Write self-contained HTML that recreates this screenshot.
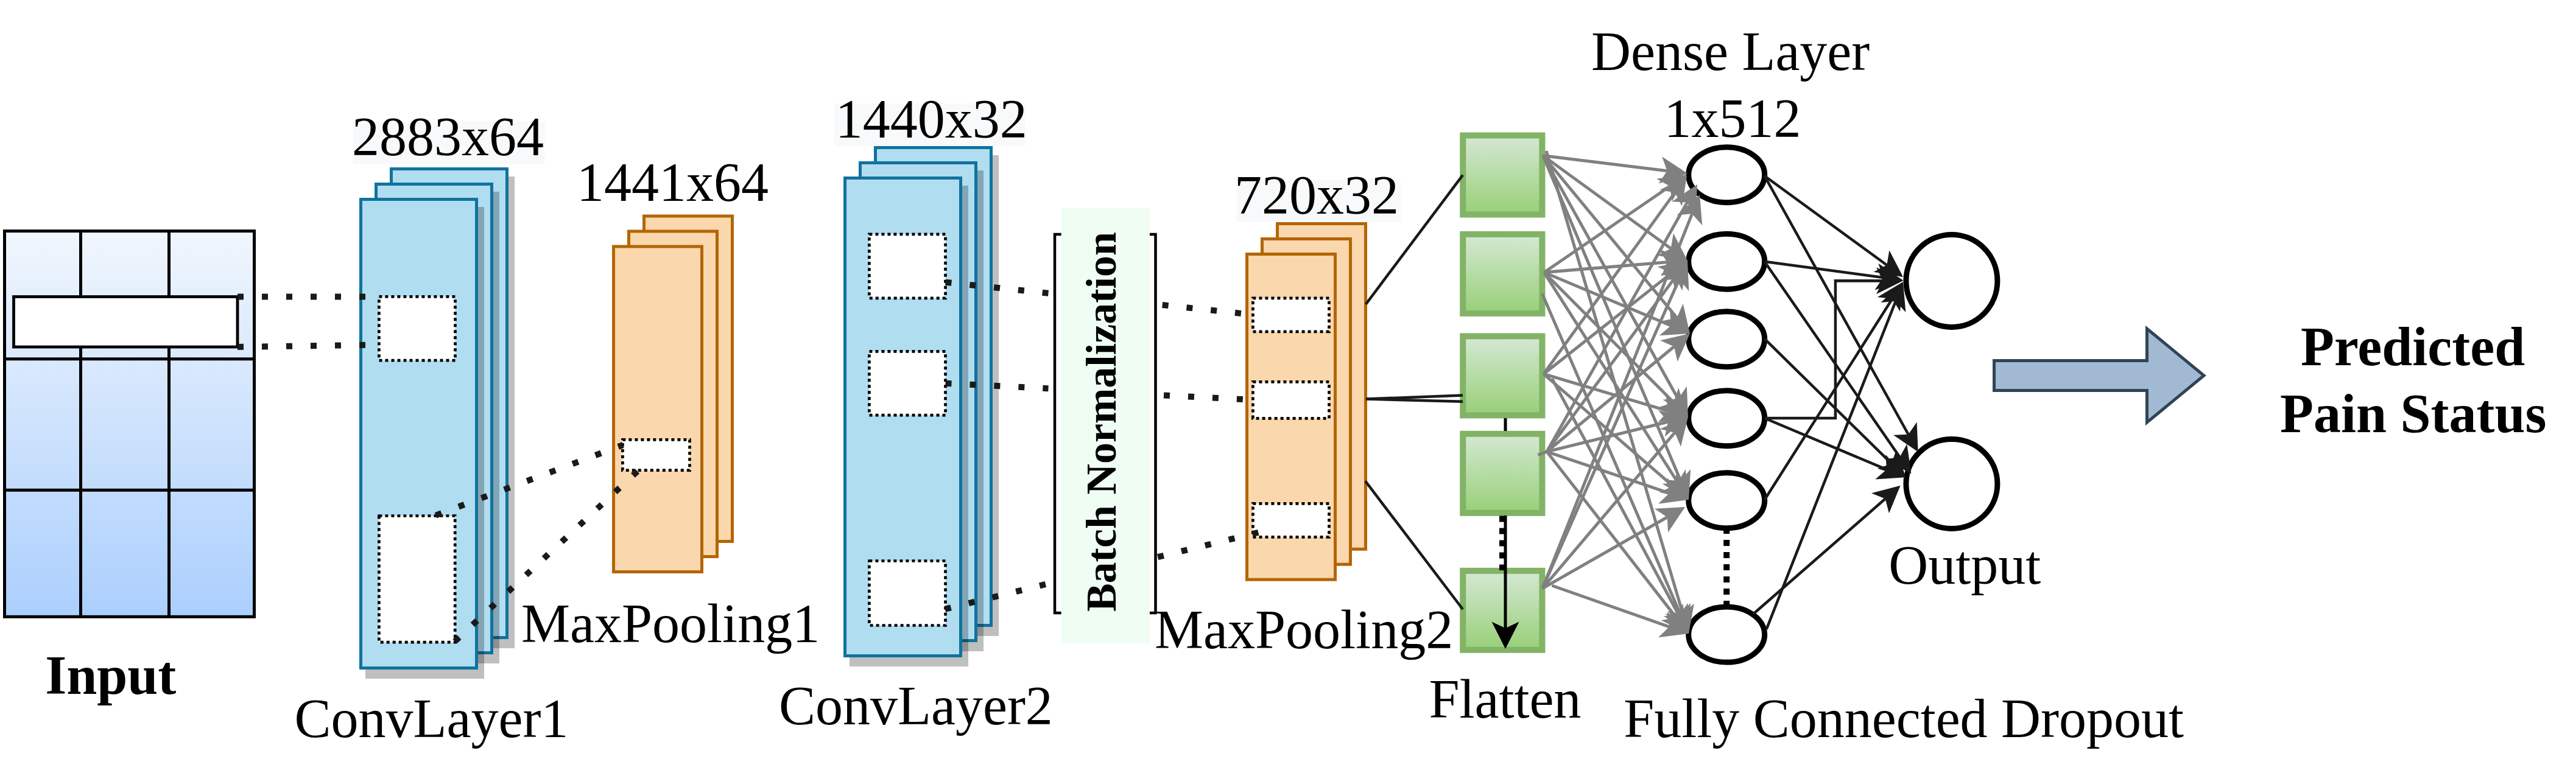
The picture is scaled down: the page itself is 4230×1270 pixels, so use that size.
<!DOCTYPE html>
<html><head><meta charset="utf-8"><style>html,body{margin:0;padding:0;background:#fff;width:4230px;height:1270px;overflow:hidden}svg{display:block}</style></head>
<body>
<svg width="4230" height="1270" viewBox="0 0 4230 1270" font-family="Liberation Serif"><defs><linearGradient id="gIn" x1="0" y1="0" x2="0" y2="1"><stop offset="0" stop-color="#f1f6fd"/><stop offset="1" stop-color="#abcffd"/></linearGradient><linearGradient id="gGr" x1="0" y1="0" x2="0" y2="1"><stop offset="0" stop-color="#d5e8d4"/><stop offset="1" stop-color="#97d077"/></linearGradient></defs><rect width="4230" height="1270" fill="#fff"/>
<rect x="7.5" y="379.6" width="410" height="633.7" fill="url(#gIn)" stroke="#000" stroke-width="5"/>
<line x1="132.5" y1="379.6" x2="132.5" y2="1013.3" stroke="#000" stroke-width="5"/>
<line x1="277.5" y1="379.6" x2="277.5" y2="1013.3" stroke="#000" stroke-width="5"/>
<line x1="7.5" y1="589.8" x2="417.5" y2="589.8" stroke="#000" stroke-width="5"/>
<line x1="7.5" y1="805.2" x2="417.5" y2="805.2" stroke="#000" stroke-width="5"/>
<rect x="22.5" y="487.5" width="367.5" height="82.5" fill="#fff" stroke="#000" stroke-width="4.8"/>
<rect x="650" y="290" width="195" height="775" fill="#000" fill-opacity="0.25"/>
<rect x="642.5" y="277.5" width="190" height="770" fill="#b1ddf0" stroke="#10739e" stroke-width="5"/>
<rect x="625" y="315" width="195" height="775" fill="#000" fill-opacity="0.25"/>
<rect x="617.5" y="302.5" width="190" height="770" fill="#b1ddf0" stroke="#10739e" stroke-width="5"/>
<rect x="600" y="340" width="195" height="775" fill="#000" fill-opacity="0.25"/>
<rect x="592.5" y="327.5" width="190" height="770" fill="#b1ddf0" stroke="#10739e" stroke-width="5"/>
<rect x="622.4" y="487.3" width="125.1" height="104.9" fill="#fff" stroke="#000" stroke-width="4.7" stroke-dasharray="5 5"/>
<rect x="622.4" y="847.5" width="124.8" height="207.7" fill="#fff" stroke="#000" stroke-width="4.7" stroke-dasharray="5 5"/>
<rect x="1057.5" y="355" width="145" height="534.5" fill="#fad7ac" stroke="#b46504" stroke-width="5"/>
<rect x="1032.5" y="380" width="145" height="534.5" fill="#fad7ac" stroke="#b46504" stroke-width="5"/>
<rect x="1007.5" y="405" width="145" height="534.5" fill="#fad7ac" stroke="#b46504" stroke-width="5"/>
<rect x="1022.4" y="722.4" width="110.1" height="50.2" fill="#fff" stroke="#000" stroke-width="4.7" stroke-dasharray="5 5"/>
<rect x="1445" y="255" width="195" height="790" fill="#000" fill-opacity="0.25"/>
<rect x="1437.5" y="242.5" width="190" height="785" fill="#b1ddf0" stroke="#10739e" stroke-width="5"/>
<rect x="1420" y="280" width="195" height="790" fill="#000" fill-opacity="0.25"/>
<rect x="1412.5" y="267.5" width="190" height="785" fill="#b1ddf0" stroke="#10739e" stroke-width="5"/>
<rect x="1395" y="305" width="195" height="790" fill="#000" fill-opacity="0.25"/>
<rect x="1387.5" y="292.5" width="190" height="785" fill="#b1ddf0" stroke="#10739e" stroke-width="5"/>
<rect x="1427.4" y="384.8" width="125.1" height="105.1" fill="#fff" stroke="#000" stroke-width="4.7" stroke-dasharray="5 5"/>
<rect x="1427.4" y="577.3" width="125.1" height="104.9" fill="#fff" stroke="#000" stroke-width="4.7" stroke-dasharray="5 5"/>
<rect x="1427.4" y="921.5" width="125.1" height="106" fill="#fff" stroke="#000" stroke-width="4.7" stroke-dasharray="5 5"/>
<path d="M1742.8 385 H1732 V1007 H1742.8" fill="none" stroke="#000" stroke-width="4.5"/>
<path d="M1887.7 385 H1897.5 V1007 H1887.7" fill="none" stroke="#000" stroke-width="4.5"/>
<rect x="1742.8" y="342" width="145" height="714.7" fill="#effdf3"/>
<rect x="2097.5" y="367.5" width="145" height="534.7" fill="#fad7ac" stroke="#b46504" stroke-width="5"/>
<rect x="2072.5" y="392.5" width="145" height="534.7" fill="#fad7ac" stroke="#b46504" stroke-width="5"/>
<rect x="2047.5" y="417.5" width="145" height="534.7" fill="#fad7ac" stroke="#b46504" stroke-width="5"/>
<rect x="2057.4" y="489.85" width="125.1" height="54.95" fill="#fff" stroke="#000" stroke-width="4.7" stroke-dasharray="5 5"/>
<rect x="2057.4" y="627.4" width="125.1" height="60" fill="#fff" stroke="#000" stroke-width="4.7" stroke-dasharray="5 5"/>
<rect x="2057.4" y="827.4" width="125.1" height="54.9" fill="#fff" stroke="#000" stroke-width="4.7" stroke-dasharray="5 5"/>
<rect x="2402.2" y="222.5" width="130.2" height="130" fill="url(#gGr)" stroke="#82b366" stroke-width="10"/>
<rect x="2402.2" y="384.9" width="130.2" height="130" fill="url(#gGr)" stroke="#82b366" stroke-width="10"/>
<rect x="2402.2" y="552.4" width="130.2" height="130" fill="url(#gGr)" stroke="#82b366" stroke-width="10"/>
<rect x="2402.2" y="712.8" width="130.2" height="130" fill="url(#gGr)" stroke="#82b366" stroke-width="10"/>
<rect x="2402.2" y="937.8" width="130.2" height="130" fill="url(#gGr)" stroke="#82b366" stroke-width="10"/>
<ellipse cx="2835.2" cy="287.3" rx="62.5" ry="45.5" fill="#fff" stroke="#000" stroke-width="9"/>
<ellipse cx="2835.2" cy="429.7" rx="62.5" ry="45.5" fill="#fff" stroke="#000" stroke-width="9"/>
<ellipse cx="2835.2" cy="557.3" rx="62.5" ry="45.5" fill="#fff" stroke="#000" stroke-width="9"/>
<ellipse cx="2835.2" cy="687.2" rx="62.5" ry="45.5" fill="#fff" stroke="#000" stroke-width="9"/>
<ellipse cx="2835.2" cy="822.3" rx="62.5" ry="45.5" fill="#fff" stroke="#000" stroke-width="9"/>
<ellipse cx="2835.2" cy="1042.6" rx="62.5" ry="45.5" fill="#fff" stroke="#000" stroke-width="9"/>
<line x1="2835.2" y1="867" x2="2835.2" y2="997" stroke="#000" stroke-width="10" stroke-dasharray="10 10"/>
<ellipse cx="3204.9" cy="461.4" rx="75" ry="76" fill="#fff" stroke="#000" stroke-width="9"/>
<ellipse cx="3204.9" cy="794.9" rx="75" ry="73.5" fill="#fff" stroke="#000" stroke-width="9"/>
<path d="M3274.5 592.5 H3525.5 V540 L3619 617 L3525.5 694 V641.5 H3274.5 Z" fill="#a1b9d3" stroke="#314354" stroke-width="5"/>
<rect x="579.5" y="200" width="315" height="70" fill="#f8f9fa"/>
<rect x="1369.7" y="170" width="314.3" height="70" fill="#f8f9fa"/>
<rect x="2030.3" y="295" width="269.7" height="70" fill="#f8f9fa"/>
<line x1="390" y1="487.5" x2="600" y2="487.5" stroke="#1a1a1a" stroke-width="10" stroke-dasharray="10 30"/>
<line x1="390" y1="570" x2="600" y2="566.8" stroke="#1a1a1a" stroke-width="10" stroke-dasharray="10 30"/>
<line x1="715.6" y1="846.6" x2="1023" y2="731" stroke="#1a1a1a" stroke-width="10" stroke-dasharray="10 30"/>
<line x1="746.8" y1="1053.8" x2="1047" y2="774" stroke="#1a1a1a" stroke-width="10" stroke-dasharray="10 30"/>
<line x1="1552.53" y1="463.77" x2="1721.47" y2="481.83" stroke="#1a1a1a" stroke-width="10" stroke-dasharray="10 30"/>
<line x1="1552.51" y1="629.75" x2="1721.49" y2="638.25" stroke="#1a1a1a" stroke-width="10" stroke-dasharray="10 30"/>
<line x1="1551.85" y1="1000.7" x2="1717.85" y2="959.7" stroke="#1a1a1a" stroke-width="10" stroke-dasharray="10 30"/>
<line x1="1908.63" y1="501.07" x2="2039.97" y2="515.13" stroke="#1a1a1a" stroke-width="10" stroke-dasharray="10 30"/>
<line x1="1911.01" y1="649.44" x2="2041.79" y2="656.16" stroke="#1a1a1a" stroke-width="10" stroke-dasharray="10 30"/>
<line x1="1901.14" y1="915.19" x2="2066.86" y2="874.61" stroke="#1a1a1a" stroke-width="10" stroke-dasharray="10 30"/>
<line x1="2242.8" y1="499.8" x2="2402" y2="287.6" stroke="#1a1a1a" stroke-width="4.5"/>
<line x1="2243" y1="655.6" x2="2402" y2="649.4" stroke="#1a1a1a" stroke-width="4.5"/>
<line x1="2243" y1="655.6" x2="2402" y2="659.7" stroke="#1a1a1a" stroke-width="4.5"/>
<line x1="2242" y1="790.4" x2="2402" y2="1001" stroke="#1a1a1a" stroke-width="4.5"/>
<line x1="2472" y1="847" x2="2472" y2="1040" stroke="#000" stroke-width="5"/>
<line x1="2467" y1="847.5" x2="2467" y2="937" stroke="#000" stroke-width="10" stroke-dasharray="10 10"/>
<line x1="2472" y1="687" x2="2472" y2="708" stroke="#000" stroke-width="5"/>
<path d="M2472 1066 L2449.5 1021.5 L2472 1032 L2494.5 1021.5 Z" fill="#000"/>
<line x1="2533.6" y1="255.6" x2="2737.51" y2="280.85" stroke="#808080" stroke-width="5"/>
<path d="M2771 285L2723.58 301.8L2737.51 280.85L2729.11 257.14Z" fill="#808080"/>
<line x1="2533.6" y1="255.6" x2="2743.69" y2="408.17" stroke="#808080" stroke-width="5"/>
<path d="M2771 428L2721.37 419.76L2743.69 408.17L2747.81 383.35Z" fill="#808080"/>
<line x1="2533.6" y1="255.6" x2="2753.51" y2="521.97" stroke="#808080" stroke-width="5"/>
<path d="M2775 548L2729 527.62L2753.51 521.97L2763.7 498.97Z" fill="#808080"/>
<line x1="2533.6" y1="255.6" x2="2755.62" y2="655.49" stroke="#808080" stroke-width="5"/>
<path d="M2772 685L2730.49 656.58L2755.62 655.49L2769.83 634.74Z" fill="#808080"/>
<line x1="2533.6" y1="255.6" x2="2759.84" y2="789.92" stroke="#808080" stroke-width="5"/>
<path d="M2773 821L2734.74 788.33L2759.84 789.92L2776.17 770.79Z" fill="#808080"/>
<line x1="2539" y1="248" x2="2763.45" y2="1008.63" stroke="#808080" stroke-width="5"/>
<path d="M2773 1041L2738.68 1004.21L2763.45 1008.63L2781.84 991.47Z" fill="#808080"/>
<line x1="2535.5" y1="447.5" x2="2742.15" y2="306.06" stroke="#808080" stroke-width="5"/>
<path d="M2770 287L2745.57 330.98L2742.15 306.06L2720.16 293.85Z" fill="#808080"/>
<line x1="2535.5" y1="447.5" x2="2737.37" y2="430.79" stroke="#808080" stroke-width="5"/>
<path d="M2771 428L2728.01 454.14L2737.37 430.79L2724.3 409.29Z" fill="#808080"/>
<line x1="2535.5" y1="447.5" x2="2743.88" y2="534.94" stroke="#808080" stroke-width="5"/>
<path d="M2775 548L2724.8 551.34L2743.88 534.94L2742.21 509.84Z" fill="#808080"/>
<line x1="2535.5" y1="447.5" x2="2748.19" y2="661.08" stroke="#808080" stroke-width="5"/>
<path d="M2772 685L2724.3 668.99L2748.19 661.08L2756.19 637.24Z" fill="#808080"/>
<line x1="2535.5" y1="447.5" x2="2754.89" y2="792.52" stroke="#808080" stroke-width="5"/>
<path d="M2773 821L2729.87 795.1L2754.89 792.52L2767.84 770.95Z" fill="#808080"/>
<line x1="2532.4" y1="482.5" x2="2759.65" y2="1010" stroke="#808080" stroke-width="5"/>
<path d="M2773 1041L2734.53 1008.57L2759.65 1010L2775.86 990.77Z" fill="#808080"/>
<line x1="2534.7" y1="614.4" x2="2750.22" y2="316.35" stroke="#808080" stroke-width="5"/>
<path d="M2770 289L2761.86 338.65L2750.22 316.35L2725.4 312.28Z" fill="#808080"/>
<line x1="2534.7" y1="614.4" x2="2744.5" y2="448.9" stroke="#808080" stroke-width="5"/>
<path d="M2771 428L2749.6 473.54L2744.5 448.9L2721.73 438.2Z" fill="#808080"/>
<line x1="2534.7" y1="614.4" x2="2739.65" y2="675.38" stroke="#808080" stroke-width="5"/>
<path d="M2772 685L2722.45 693.73L2739.65 675.38L2735.28 650.6Z" fill="#808080"/>
<line x1="2534.7" y1="614.4" x2="2747.5" y2="798.89" stroke="#808080" stroke-width="5"/>
<path d="M2773 821L2724.26 808.52L2747.5 798.89L2753.74 774.52Z" fill="#808080"/>
<line x1="2548.6" y1="622" x2="2757.07" y2="1011.25" stroke="#808080" stroke-width="5"/>
<path d="M2773 1041L2731.92 1011.95L2757.07 1011.25L2771.59 990.71Z" fill="#808080"/>
<line x1="2540" y1="742" x2="2770.45" y2="332.41" stroke="#808080" stroke-width="5"/>
<path d="M2787 303L2784.54 353.25L2770.45 332.41L2745.32 331.19Z" fill="#808080"/>
<line x1="2540" y1="742" x2="2751" y2="455.19" stroke="#808080" stroke-width="5"/>
<path d="M2771 428L2762.46 477.58L2751 455.19L2726.21 450.91Z" fill="#808080"/>
<line x1="2540" y1="742" x2="2748.97" y2="569.49" stroke="#808080" stroke-width="5"/>
<path d="M2775 548L2754.62 594L2748.97 569.49L2725.97 559.3Z" fill="#808080"/>
<line x1="2540" y1="742" x2="2739.22" y2="693.05" stroke="#808080" stroke-width="5"/>
<path d="M2772 685L2733.67 717.59L2739.22 693.05L2722.93 673.89Z" fill="#808080"/>
<line x1="2540" y1="742" x2="2741.04" y2="810.16" stroke="#808080" stroke-width="5"/>
<path d="M2773 821L2723.16 827.86L2741.04 810.16L2737.61 785.24Z" fill="#808080"/>
<line x1="2540" y1="742" x2="2752.25" y2="1014.38" stroke="#808080" stroke-width="5"/>
<path d="M2773 1041L2727.59 1019.33L2752.25 1014.38L2763.09 991.67Z" fill="#808080"/>
<line x1="2532.8" y1="966.8" x2="2778.49" y2="351.34" stroke="#808080" stroke-width="5"/>
<path d="M2791 320L2795.21 370.13L2778.49 351.34L2753.42 353.45Z" fill="#808080"/>
<line x1="2532.8" y1="966.8" x2="2757.35" y2="458.87" stroke="#808080" stroke-width="5"/>
<path d="M2771 428L2773.38 478.26L2757.35 458.87L2732.23 460.06Z" fill="#808080"/>
<line x1="2532.8" y1="966.8" x2="2750.16" y2="710.73" stroke="#808080" stroke-width="5"/>
<path d="M2772 685L2760.03 733.87L2750.16 710.73L2725.73 704.75Z" fill="#808080"/>
<line x1="2532.8" y1="966.8" x2="2737.7" y2="849.74" stroke="#808080" stroke-width="5"/>
<path d="M2767 833L2739.09 874.86L2737.7 849.74L2716.77 835.79Z" fill="#808080"/>
<line x1="2548.3" y1="962" x2="2741.16" y2="1029.81" stroke="#808080" stroke-width="5"/>
<path d="M2773 1041L2723.08 1047.3L2741.16 1029.81L2738.01 1004.85Z" fill="#808080"/>
<line x1="2525.5" y1="747.3" x2="2540" y2="742" stroke="#808080" stroke-width="5"/>
<path d="M2897.5 687 H3013.9 V461.3 H3095" fill="none" stroke="#1a1a1a" stroke-width="4.5"/>
<line x1="3013.9" y1="461.3" x2="3092" y2="461.3" stroke="#1a1a1a" stroke-width="4.5"/>
<path d="M3125 461.3L3081 483.3L3092 461.3L3081 439.3Z" fill="#1a1a1a"/>
<line x1="2897.5" y1="289" x2="3098.34" y2="435.55" stroke="#1a1a1a" stroke-width="4.5"/>
<path d="M3125 455L3076.49 446.84L3098.34 435.55L3102.42 411.29Z" fill="#1a1a1a"/>
<line x1="2897.5" y1="289" x2="3133.66" y2="713.76" stroke="#1a1a1a" stroke-width="4.5"/>
<path d="M3149.7 742.6L3109.09 714.83L3133.66 713.76L3147.55 693.45Z" fill="#1a1a1a"/>
<line x1="2897.5" y1="429.7" x2="3092.3" y2="456.07" stroke="#1a1a1a" stroke-width="4.5"/>
<path d="M3125 460.5L3078.45 476.4L3092.3 456.07L3084.35 432.8Z" fill="#1a1a1a"/>
<line x1="2897.5" y1="429.7" x2="3119.54" y2="751.05" stroke="#1a1a1a" stroke-width="4.5"/>
<path d="M3138.3 778.2L3095.19 754.51L3119.54 751.05L3131.39 729.49Z" fill="#1a1a1a"/>
<line x1="2897.5" y1="556.6" x2="3106.27" y2="761.86" stroke="#1a1a1a" stroke-width="4.5"/>
<path d="M3129.8 785L3083 769.84L3106.27 761.86L3113.85 738.46Z" fill="#1a1a1a"/>
<line x1="2897.5" y1="687" x2="3097.99" y2="771.4" stroke="#1a1a1a" stroke-width="4.5"/>
<path d="M3128.4 784.2L3079.31 787.41L3097.99 771.4L3096.38 746.85Z" fill="#1a1a1a"/>
<line x1="2897.8" y1="820.8" x2="3107.31" y2="490.86" stroke="#1a1a1a" stroke-width="4.5"/>
<path d="M3125 463L3119.99 511.94L3107.31 490.86L3082.84 488.35Z" fill="#1a1a1a"/>
<line x1="2900.7" y1="1033.7" x2="3112.91" y2="494.71" stroke="#1a1a1a" stroke-width="4.5"/>
<path d="M3125 464L3129.35 513L3112.91 494.71L3088.41 496.88Z" fill="#1a1a1a"/>
<line x1="2879.3" y1="1008.5" x2="3095.74" y2="819.51" stroke="#1a1a1a" stroke-width="4.5"/>
<path d="M3120.6 797.8L3101.93 843.31L3095.74 819.51L3072.99 810.17Z" fill="#1a1a1a"/>
<text transform="translate(1831.8 1005.1) rotate(-90)" font-size="70" font-weight="bold">Batch Normalization</text>
<text x="577.9" y="254.8" font-size="90">2883x64</text>
<text x="946.9" y="330" font-size="90">1441x64</text>
<text x="1371.7" y="225.8" font-size="90">1440x32</text>
<text x="2027.1" y="350.8" font-size="90">720x32</text>
<text x="2613" y="115.2" font-size="90">Dense Layer</text>
<text x="2732.5" y="225.3" font-size="90">1x512</text>
<text x="74.2" y="1140" font-size="90" font-weight="bold">Input</text>
<text x="483.6" y="1211" font-size="90">ConvLayer1</text>
<text x="856.1" y="1055.3" font-size="90">MaxPooling1</text>
<text x="1279" y="1190" font-size="90">ConvLayer2</text>
<text x="1896.1" y="1065" font-size="90">MaxPooling2</text>
<text x="2346.4" y="1179.2" font-size="90">Flatten</text>
<text x="3101.2" y="959" font-size="90">Output</text>
<text x="2666.2" y="1210.7" font-size="90">Fully Connected Dropout</text>
<text x="3778" y="600" font-size="90" font-weight="bold">Predicted</text>
<text x="3744" y="710" font-size="90" font-weight="bold">Pain Status</text>
</svg>
</body></html>
